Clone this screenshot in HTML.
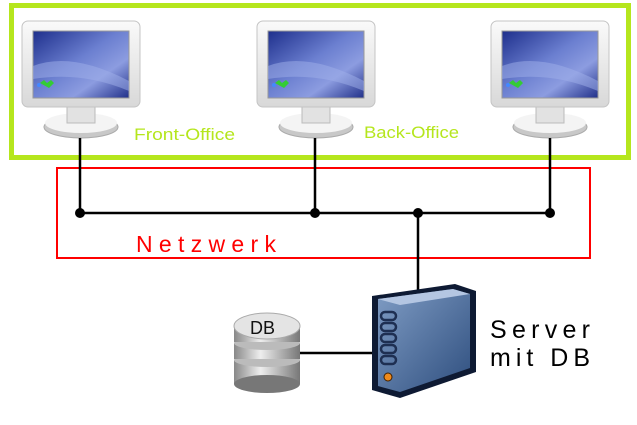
<!DOCTYPE html>
<html><head><meta charset="utf-8"><style>
html,body{margin:0;padding:0;background:#fff}
svg{display:block}
</style></head><body>
<svg width="637" height="425" viewBox="0 0 637 425" xmlns="http://www.w3.org/2000/svg">
<defs>
<linearGradient id="scr" x1="0" y1="0" x2="1" y2="1">
<stop offset="0" stop-color="#1e2f8c"/><stop offset="0.45" stop-color="#6b7fd0"/><stop offset="0.7" stop-color="#8c9ce0"/><stop offset="1" stop-color="#22318a"/>
</linearGradient>
<linearGradient id="frm" x1="0" y1="0" x2="0" y2="1">
<stop offset="0" stop-color="#fafafa"/><stop offset="1" stop-color="#d8d8d8"/>
</linearGradient>
<linearGradient id="srv" x1="0" y1="0" x2="1" y2="1">
<stop offset="0" stop-color="#7f9cc4"/><stop offset="1" stop-color="#2f4f7f"/>
</linearGradient>
<linearGradient id="db" x1="0" y1="0" x2="1" y2="0">
<stop offset="0" stop-color="#888"/><stop offset="0.4" stop-color="#eee"/><stop offset="1" stop-color="#777"/>
</linearGradient>
<g id="mon">
<ellipse cx="59" cy="106" rx="37" ry="11" fill="#c8c8c8" stroke="#aaa"/>
<ellipse cx="59" cy="102" rx="36" ry="10" fill="#f4f4f4"/>
<rect x="45" y="84" width="28" height="18" fill="#e2e2e2" stroke="#bbb"/>
<rect x="0" y="0" width="118" height="86" rx="6" fill="url(#frm)" stroke="#c4c4c4"/>
<rect x="11" y="10" width="96" height="67" fill="url(#scr)" stroke="#999"/>
<path d="M11 45 Q50 30 107 60 L107 70 Q60 50 11 58Z" fill="#9fb0ea" opacity="0.5"/>
<path d="M18 62 l4 -3 l3 3 l4 -3 l3 3 l-5 5z" fill="#3c3"/>
<circle cx="17" cy="64" r="2" fill="#48f"/>
</g>
</defs>
<rect x="11.5" y="5.5" width="617" height="152" fill="none" stroke="#b5e61d" stroke-width="5"/>
<rect x="57" y="168" width="533" height="90" fill="none" stroke="#f00" stroke-width="2"/>
<use href="#mon" x="22" y="21"/>
<use href="#mon" x="257" y="21"/>
<use href="#mon" x="491" y="21"/>
<g stroke="#000" stroke-width="2.5" fill="none">
<line x1="80" y1="138" x2="80" y2="213"/>
<line x1="315" y1="138" x2="315" y2="213"/>
<line x1="550" y1="138" x2="550" y2="213"/>
<line x1="80" y1="213" x2="550" y2="213"/>
<line x1="418" y1="213" x2="418" y2="290"/>
<line x1="298" y1="353" x2="372" y2="353"/>
</g>
<g fill="#000"><circle cx="80" cy="213" r="5"/><circle cx="315" cy="213" r="5"/><circle cx="418" cy="213" r="5"/><circle cx="550" cy="213" r="5"/></g>
<text x="134" y="140" font-family="Liberation Sans, sans-serif" font-size="17" fill="#b5e61d" textLength="101" lengthAdjust="spacingAndGlyphs">Front-Office</text>
<text x="364" y="138" font-family="Liberation Sans, sans-serif" font-size="17" fill="#b5e61d" textLength="95" lengthAdjust="spacingAndGlyphs">Back-Office</text>
<text x="136" y="252" font-family="Liberation Sans, sans-serif" font-size="23" fill="#f00" textLength="140">Netzwerk</text>
<!-- server -->
<path d="M372 296 L455 284 L476 291 L476 372 L400 398 L372 390Z" fill="#0e1a33"/>
<path d="M378 299 L453 289 L470 294 L470 368 L400 392 L378 386Z" fill="url(#srv)"/>
<path d="M378 299 L453 289 L470 294 L400 305Z" fill="#b4c6e2"/>
<g fill="none" stroke="#1e2f52" stroke-width="2.5">
<rect x="381" y="312" width="15" height="8" rx="4"/><rect x="381" y="323" width="15" height="8" rx="4"/>
<rect x="381" y="334" width="15" height="8" rx="4"/><rect x="381" y="345" width="15" height="8" rx="4"/>
<rect x="381" y="356" width="15" height="8" rx="4"/>
</g>
<circle cx="388" cy="377" r="4" fill="#f08a1c" stroke="#402000"/>
<!-- db -->
<g>
<rect x="234" y="360" width="66" height="24" fill="url(#db)"/><ellipse cx="267" cy="384" rx="33" ry="9" fill="#777"/>
<ellipse cx="267" cy="360" rx="33" ry="7" fill="#bbb"/>
<rect x="234" y="343" width="66" height="16" fill="url(#db)"/>
<ellipse cx="267" cy="343" rx="33" ry="7" fill="#bbb"/>
<rect x="234" y="326" width="66" height="16" fill="url(#db)"/>
<ellipse cx="267" cy="326" rx="33" ry="13" fill="#e4e4e4" stroke="#aaa"/>
<text x="250" y="334" font-family="Liberation Sans, sans-serif" font-size="18" fill="#111">DB</text>
</g>
<text x="490" y="338" font-family="Liberation Sans, sans-serif" font-size="25" fill="#000" textLength="100">Server</text>
<text x="490" y="366" font-family="Liberation Sans, sans-serif" font-size="25" fill="#000" textLength="100">mit DB</text>
</svg>
</body></html>
